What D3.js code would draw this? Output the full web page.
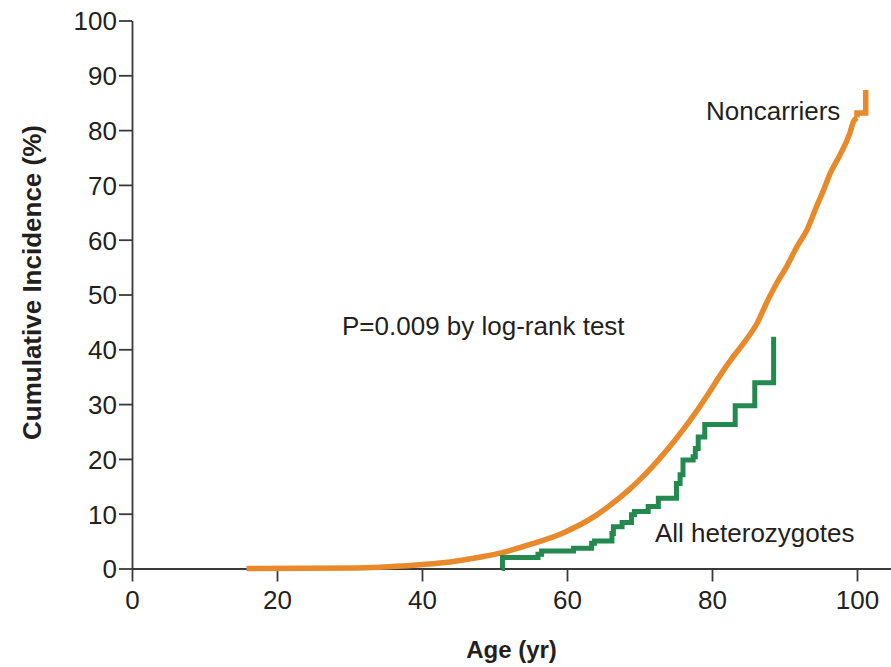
<!DOCTYPE html>
<html>
<head>
<meta charset="utf-8">
<script src="https://cdn.jsdelivr.net/npm/d3@7"></script>
<style>
  html, body { margin: 0; padding: 0; background: #fff; }
  svg { display: block; font-family: "Liberation Sans", Arial, sans-serif; }
</style>
</head>
<body>
<div id="chart"></div>
<script>
// noncarriers (orange)
const ageNon = [15.8, 31.0, 36.5, 39.7, 43.9, 48.5, 50.8, 54.7, 59.3, 63.9, 66.0, 68.5, 70.5, 72.8, 75.0, 77.4, 79.7, 81.1, 82.9, 84.8, 86.2, 87.5, 88.9, 90.3, 91.7, 93.1, 94.4, 95.4, 96.3, 97.7, 99.0, 99.5, 100.0];
const incNon = [0, 0.1, 0.4, 0.7, 1.2, 2.2, 2.8, 4.3, 6.4, 9.6, 11.6, 14.3, 16.8, 20.1, 23.6, 27.8, 32.3, 35.2, 38.6, 41.9, 44.7, 48.4, 52.0, 55.1, 58.7, 61.8, 66.0, 69.1, 72.1, 75.6, 79.4, 81.5, 82.3];
// last steps of the noncarrier curve
const ageNonEnd = [100.0, 101.2, 101.2];
const incNonEnd = [83.1, 83.1, 87.3];

// all heterozygotes (green) - step function
const ageHet = [51.0, 51.1, 56.0, 56.5, 60.9, 63.4, 63.8, 66.2, 66.4, 67.6, 68.9, 69.3, 71.2, 72.6, 75.1, 75.6, 76.0, 77.4, 77.7, 78.1, 79.0, 83.2, 85.9, 88.5];
const incHet = [0, 2.0, 2.6, 3.2, 3.7, 4.6, 5.0, 6.4, 7.6, 8.4, 9.8, 10.4, 11.3, 12.8, 15.5, 17.1, 19.8, 20.4, 21.9, 24.0, 26.3, 29.7, 33.9, 42.3];

const xTicks = [0, 20, 40, 60, 80, 100];
const yTicks = [0, 10, 20, 30, 40, 50, 60, 70, 80, 90, 100];

const width = 891, height = 667;
const svg = d3.select("#chart").append("svg")
    .attr("width", width)
    .attr("height", height);

const x = d3.scaleLinear().domain([0, 104.69]).range([132, 891]);
const y = d3.scaleLinear().domain([0, 100]).range([568.5, 20.5]);

const axisColor = "#3a3a3a";
const textColor = "#231f20";
const orange = "#e8892b";

// axes
const yAxis = svg.append("g")
    .attr("transform", `translate(${x(0)},0)`)
    .call(d3.axisLeft(y).tickValues(yTicks).tickSize(13).tickPadding(2).tickSizeOuter(0));
const xAxis = svg.append("g")
    .attr("transform", `translate(0,${y(0)})`)
    .call(d3.axisBottom(x).tickValues(xTicks).tickSize(13).tickPadding(9).tickSizeOuter(0));

[xAxis, yAxis].forEach(g => {
    g.select(".domain").attr("stroke", axisColor).attr("stroke-width", 1.8);
    g.selectAll(".tick line").attr("stroke", axisColor).attr("stroke-width", 1.8);
    g.selectAll(".tick text")
        .attr("fill", textColor)
        .style("font-size", "26px")
        .style("font-family", "\"Liberation Sans\", Arial, sans-serif");
});
yAxis.selectAll(".tick text").attr("dy", "0.36em");

// curves
const nonData = ageNon.map((a, i) => [a, incNon[i]]);
const nonEnd = [[ageNon[ageNon.length - 1], incNon[incNon.length - 1]]]
    .concat(ageNonEnd.map((a, i) => [a, incNonEnd[i]]));
const hetData = ageHet.map((a, i) => [a, incHet[i]]);

svg.append("path")
    .datum(nonData)
    .attr("fill", "none")
    .attr("stroke", orange)
    .attr("stroke-width", 5.5)
    .attr("d", d3.line().curve(d3.curveMonotoneX).x(d => x(d[0])).y(d => y(d[1])));

svg.append("path")
    .datum(nonEnd)
    .attr("fill", "none")
    .attr("stroke", orange)
    .attr("stroke-width", 5.5)
    .attr("d", d3.line().x(d => x(d[0])).y(d => y(d[1])));

svg.append("path")
    .datum(hetData)
    .attr("fill", "none")
    .attr("stroke", "#23894f")
    .attr("stroke-width", 5)
    .attr("d", d3.line().curve(d3.curveStepAfter).x(d => x(d[0])).y(d => y(d[1])));

// labels
svg.append("text")
    .attr("x", 706).attr("y", 120)
    .attr("fill", textColor)
    .style("font-size", "26px")
    .text("Noncarriers");

svg.append("text")
    .attr("x", 655).attr("y", 541.5)
    .attr("fill", textColor)
    .style("font-size", "26px")
    .text("All heterozygotes");

svg.append("text")
    .attr("x", 342).attr("y", 335)
    .attr("fill", textColor)
    .style("font-size", "26px")
    .text("P=0.009 by log-rank test");

// axis titles
svg.append("text")
    .attr("transform", "translate(41,282.5) rotate(-90)")
    .attr("text-anchor", "middle")
    .attr("fill", textColor)
    .style("font-size", "26px")
    .style("font-weight", "bold")
    .text("Cumulative Incidence (%)");

svg.append("text")
    .attr("x", 511.5).attr("y", 658)
    .attr("text-anchor", "middle")
    .attr("fill", textColor)
    .style("font-size", "24px")
    .style("font-weight", "bold")
    .text("Age (yr)");
</script>
</body>
</html>
